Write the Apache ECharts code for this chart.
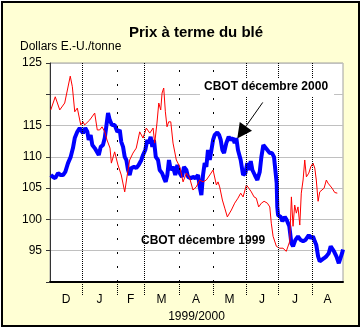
<!DOCTYPE html>
<html><head><meta charset="utf-8">
<script src="https://cdn.jsdelivr.net/npm/echarts@6/dist/echarts.min.js"></script>
<style>html,body{margin:0;background:#fff}#c{width:363px;height:331px}</style>
</head><body><div id="c"></div>
<script>
// x = trading-day index (Dec 1999 .. Aug 2000)
const months = ['D','J','F','M','A','M','J','J','A'];
const monthBounds = [0, 21.3, 44.7, 62.7, 86, 108.7, 130.7, 152, 174.7, 195.3];
const periodLabel = '1999/2000';
const yUnit = 'Dollars E.-U./tonne';
const titleText = 'Prix à terme du blé';
const name2000 = 'CBOT décembre 2000';
const name1999 = 'CBOT décembre 1999';

const dec1999Days = [0.5,3.5,6.5,9.8,13.5,14.9,16.5,18.2,19.5,20.5,
  22,23.1,26.5,29.8,31.5,33.1,34.7,36.5,38,40,
  40.9,43.1,45.3,47.5,49.8,51.5,53.1,55.3,57.5,59.8,
  62,64.2,66.5,68.7,69.8,71.3,72.5,73.8,74.7,75.8,
  76.9,78,79.1,80.5,82,84.2,86.5,88.7,90.9,93.1,
  95.3,97.5,99.8,102,104.2,106.5,108.7,109.8,110.9,112,
  113.1,114.9,116.5,118.2,120.9,123.1,125.3,127.1,128.7,130.9,
  132.5,134.2,136,137.5,139.1,140.9,142.7,144.9,146.5,147.5,
  148.7,149.8,150.9,153.1,155.3,157.5,159.8,160.9,162,163.1,
  164.2,165.3,166.5,167.5,168.7,169.8,170.9,172.5,173.8,175.3,
  176.5,177.5,178.7,179.8,180.9,182.7,184.2,185.3,186.5,188,
  189.8,191.5];
const dec1999Vals = [117.5,119.6,117.5,118.6,122.9,121.2,117.2,117.8,117.5,115.1,
  115.6,115.1,115.9,117,114.3,114.3,114.8,114,112.7,111.4,
  109,110.8,108.7,107.1,104.4,107.1,109.5,110.6,111.4,114,
  113,114.6,113.8,114.6,112.2,115.4,118.6,117.5,120.2,121,
  117.2,114.8,115.6,115.6,112.2,109.5,108.4,106,107.4,106.6,
  104.7,105.2,106.3,106,106.3,107.1,107.9,108,105.5,106,
  105.2,103.1,101.8,100.4,101.5,102.6,103.4,104.2,103.6,105.5,
  105,104.4,103.6,103.4,102,102.6,102.9,102.6,102,99.4,
  97.3,97,95.7,95.4,95.4,94.9,96.5,103.6,98.9,102.3,
  101,102,99.1,104.2,106.3,109.5,106.8,107.4,108.4,109,
  108.2,106.3,102.9,104.4,104.7,105,106.3,105.8,105.5,105,
  104.3,104.2];

const dec2000Days = [0.5,2,3.5,5.3,7.1,8.7,10.2,12,13.8,15.3,
  16.5,18.2,19.8,20.9,22,23.5,24.9,25.8,27.1,28.2,
  29.8,30.9,32.5,33.8,35.3,36.5,37.5,38.7,39.8,41.3,
  43.1,44.9,46.5,47.5,48.7,49.8,50.9,52,53.1,54.2,
  56,57.5,59.1,60.9,62,63.5,64.9,65.8,67.1,68.2,
  69.3,70.5,72,73.1,74.7,76,77.1,78.2,79.3,80.5,
  82,83.5,84.9,86.5,88,89.3,90.9,92,93.8,95.3,
  96.9,98.7,99.8,100.9,102,103.1,104.2,105.3,106.5,107.5,
  108.7,109.8,111.5,112.7,113.8,114.9,116,117.5,119.1,120.5,
  122,123.1,124.2,125.3,127.1,128.7,130.2,131.5,132.5,133.8,
  134.9,136.5,138.2,139.8,140.9,142.2,143.5,144.9,146.5,148,
  149.3,150.5,151.1,151.5,152,153.8,154.9,156.5,157.8,159.5,
  160.9,162,163.5,165.3,167.1,168.7,170.2,171.5,172.5,173.8,
  175.3,176.5,177.5,178.7,179.8,180.9,182.7,184.2,185.8,187.1,
  188.2,189.3,190.9,192.5,193.8,194.7,195.3];
const dec2000Vals = [107.1,106.8,106.6,107.4,107.1,107.1,107.6,109,110,111.4,
  113,114,114.6,114.6,113.8,114.6,114,112.7,113.5,111.9,
  111.4,111.6,110.3,111.6,111.9,113,114.8,117,115.9,115.1,
  115.1,114,114.3,112.4,111.6,110,109.5,107.9,107.1,108.2,
  108.4,108.2,108.7,109.5,110.3,111.1,112.7,112.2,113.2,111.6,
  112.7,110,109.5,107.9,107.4,106.6,106,107.1,109.5,107.9,
  108.4,107.1,108.7,107.4,106.8,108.4,107.9,106.8,106.6,106.8,
  106.6,107.1,105.2,103.9,107.1,109,108.4,111.1,109.5,109.5,
  112.7,113.5,113.9,113.5,112.7,111.1,110.6,112.2,113.2,112.7,
  113,112.2,113,111.1,109.5,107.1,107.4,109,107.9,109.3,
  107.9,107.1,106.3,107.6,110,111.9,111.9,111.1,110.6,110.6,
  110,110,105.8,102,100.7,100.4,99.7,100.4,99.9,98.9,
  96.2,95.7,96.7,97.3,96.7,96.5,96.7,97,97.5,97,
  97.3,96.5,95.9,94.1,93.3,93.5,93.8,94.1,94.6,95.7,
  95.9,94.9,94.1,93,93,94.6,95.2];

const FONT = '"Liberation Sans", Arial, sans-serif';
const inner = monthBounds.slice(1, -1);
const mids = months.map((m, i) => (monthBounds[i] + monthBounds[i + 1]) / 2);
const sparse = new Set([1, 3, 4]);

const chart = echarts.init(document.getElementById('c'), null, {renderer: 'canvas'});
chart.setOption({
  backgroundColor: '#ffffff',
  animation: false,
  textStyle: {fontFamily: FONT},
  graphic: [
    {type: 'rect', z: -100, shape: {x: 2, y: 2, width: 357, height: 324},
     style: {fill: '#ffffd4', stroke: '#000', lineWidth: 2}},
    {type: 'text', z: 100, x: 196, y: 33,
     style: {text: titleText, font: 'bold 15px ' + FONT, fill: '#000', align: 'center', verticalAlign: 'middle'}},
    {type: 'text', z: 100, x: 20, y: 47,
     style: {text: yUnit, font: '12px ' + FONT, fill: '#000', align: 'left', verticalAlign: 'middle'}},
    {type: 'text', z: 100, x: 200, y: 87,
     style: {text: name2000, font: 'bold 12px ' + FONT, fill: '#000', align: 'left', verticalAlign: 'middle',
             backgroundColor: '#fff', padding: [3, 6, 3, 4]}},
    {type: 'text', z: 100, x: 141, y: 241,
     style: {text: name1999, font: 'bold 12px ' + FONT, fill: '#000', align: 'left', verticalAlign: 'middle'}}
  ],
  grid: {left: 50, top: 63, right: 20, bottom: 49, show: true, backgroundColor: '#fff',
         borderColor: '#a0a0a0', borderWidth: 1},
  xAxis: {
    type: 'value', min: monthBounds[0], max: monthBounds[monthBounds.length - 1],
    name: periodLabel, nameLocation: 'middle', nameGap: 26,
    nameTextStyle: {fontSize: 12, color: '#000', fontFamily: FONT},
    axisLine: {show: true, lineStyle: {color: '#000', width: 2}},
    axisTick: {show: true, customValues: inner, length: 13, lineStyle: {color: '#000', type: [1, 1]}},
    axisLabel: {customValues: mids, margin: 12, fontSize: 12, color: '#000', fontFamily: FONT,
      formatter: v => { const i = mids.findIndex(m => Math.abs(m - v) < 0.01); return i >= 0 ? months[i] : ''; }},
    splitLine: {show: false}
  },
  yAxis: {
    type: 'value', min: 90, max: 125, interval: 5,
    axisLine: {show: true, lineStyle: {color: '#333', width: 1}},
    axisTick: {show: true, length: 4, lineStyle: {color: '#333'}},
    axisLabel: {margin: 8, fontSize: 12, color: '#000', fontFamily: FONT,
      formatter: v => (v === 120 || v === 90) ? '' : String(v)},
    splitLine: {show: true, lineStyle: {color: '#c0c0c0', width: 1}}
  },
  series: [
    {name: name2000, type: 'line', symbol: 'none', z: 3,
     data: dec2000Days.map((d, i) => [d, dec2000Vals[i]]),
     lineStyle: {color: '#0000ff', width: 4},
     markLine: {silent: true, symbol: 'none', label: {show: false}, animation: false,
       data: inner.map((b, i) => ({xAxis: b,
         lineStyle: {color: '#000', width: 1, type: sparse.has(i) ? [2, 12] : [1, 1]}}))}},
    {name: name1999, type: 'line', symbol: 'none', z: 4,
     data: dec1999Days.map((d, i) => [d, dec1999Vals[i]]),
     lineStyle: {color: '#ff0000', width: 1},
     markLine: {silent: true, label: {show: false}, animation: false, symbolSize: 15,
       lineStyle: {color: '#000', width: 1, type: 'solid'},
       data: [[{coord: [141.8, 118.7], symbol: 'none'}, {coord: [127.7, 113.9], symbol: 'triangle'}]]}}
  ]
});
</script></body></html>
